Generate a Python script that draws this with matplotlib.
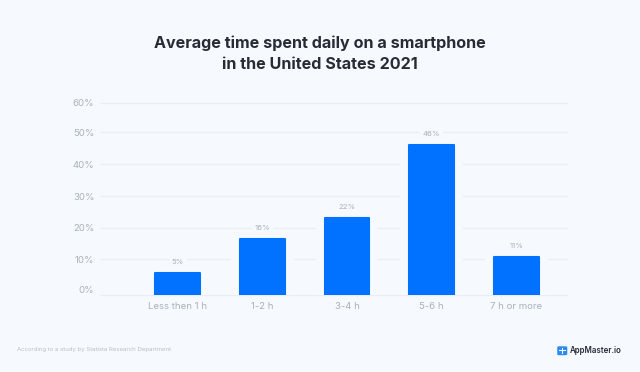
import matplotlib
matplotlib.use("Agg")
import matplotlib.pyplot as plt
from matplotlib.patches import FancyBboxPatch, Rectangle

plt.rcParams['font.family'] = ['Inter', 'DejaVu Sans']

categories = ["Less then 1 h", "1-2 h", "3-4 h", "5-6 h", "7 h or more"]
bar_labels = ["5%", "16%", "22%", "46%", "11%"]
# bar heights as they sit against the 0-60 axis (the picture is not to scale)
bar_heights = [6.7, 17.4, 23.9, 46.9, 11.6]
tick_labels = ["0%", "10%", "20%", "30%", "40%", "50%", "60%"]
grid_levels = [0, 11.1, 20.9, 30.8, 40.8, 50.7, 60]

W, H = 640, 372
bg = "#f6fafe"
blue = "#0072ff"
grey = "#a8b0bb"
grid_col = "#e8eef4"

fig = plt.figure(figsize=(W / 100, H / 100), dpi=100, facecolor=bg)
left, right, top, bottom = 100, 568, 102.7, 294.5
ax = fig.add_axes([left / W, 1 - bottom / H, (right - left) / W, (bottom - top) / H])
ax.set_facecolor(bg)
ax.set_xlim((left - 177.7) / 84.65, (right - 177.7) / 84.65)
ax.set_ylim(0, 60)
for s in ax.spines.values():
    s.set_visible(False)

x = range(len(categories))
ax.hlines(grid_levels, *ax.get_xlim(), color=grid_col, lw=0.9, zorder=1, clip_on=False)

# pale halo round the bars cuts the grid lines
ax.bar(x, [h + 2 for h in bar_heights], width=0.74, color=bg, zorder=2)
ax.bar(x, bar_heights, width=0.53, color=blue, edgecolor=blue, lw=1.5,
       joinstyle="round", zorder=3)

for i, h in enumerate(bar_heights):
    ax.annotate(bar_labels[i], (i, h), xytext=(0, 7.9), textcoords="offset points",
                ha="center", va="center", fontsize=5.6, color=grey, zorder=4,
                bbox=dict(facecolor=bg, edgecolor="none", pad=2))

ax.set_xticks(list(x), categories)
ax.tick_params(axis="x", length=0, pad=5.5, labelsize=6.9, labelcolor=grey)
ax.set_yticks(grid_levels[1:], tick_labels[1:])
ax.tick_params(axis="y", length=0, pad=4, labelsize=6.9, labelcolor=grey)
# the 0% label sits above its line
ax.text(-0.0135, 1.3, tick_labels[0], transform=ax.get_yaxis_transform(), ha="right",
        va="center", fontsize=6.9, color=grey)

fig.text(0.5, 1 - 43.5 / H, "Average time spent daily on a smartphone", ha="center", va="center",
         fontsize=11.6, fontweight="bold", color="#272b36")
fig.text(0.5, 1 - 64.5 / H, "in the United States 2021", ha="center", va="center",
         fontsize=11.6, fontweight="bold", color="#272b36")

fig.text(17 / W, 1 - 350 / H, "According to a study by Statista Research Department",
         ha="left", va="center", fontsize=4.35, color="#b8bec6")

# AppMaster logo
fig.add_artist(FancyBboxPatch((558.5 / W, 1 - 354.5 / H), 7.5 / W, 7.5 / H, transform=fig.transFigure,
                              boxstyle="round,pad=0.002,rounding_size=0.003", fc="#2d8cf0", ec="none"))
fig.add_artist(Rectangle((559 / W, 1 - 351.1 / H), 6.5 / W, 0.8 / H, transform=fig.transFigure,
                         fc="white", ec="none"))
fig.add_artist(Rectangle((561.9 / W, 1 - 353.8 / H), 0.8 / W, 6.2 / H, transform=fig.transFigure,
                         fc="white", ec="none"))
fig.text(570 / W, 1 - 350.5 / H, "AppMaster.io", ha="left", va="center",
         fontsize=5.7, fontweight="semibold", color="#272b36")

fig.savefig("out.png", dpi=100, facecolor=bg)
